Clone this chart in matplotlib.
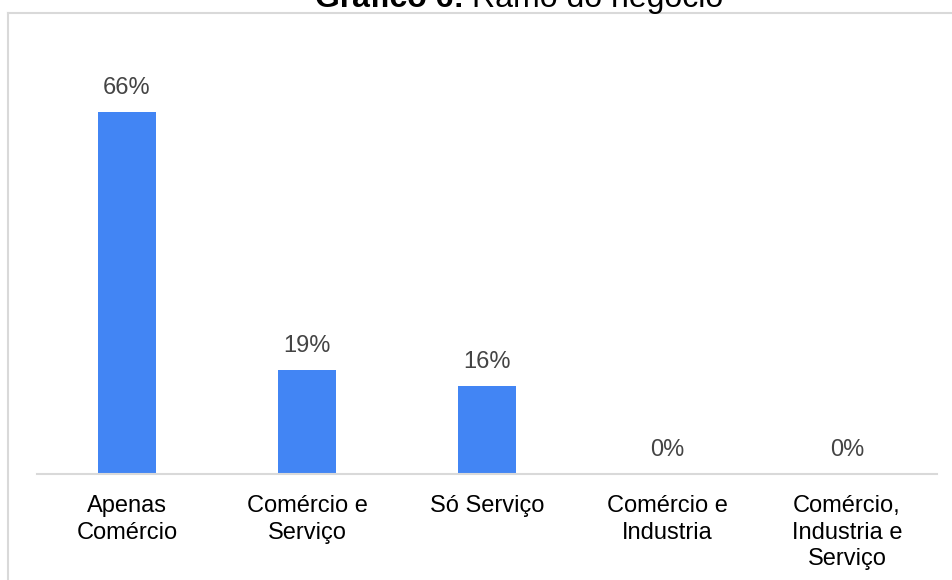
import matplotlib.pyplot as plt
from matplotlib.lines import Line2D

categorias = ["Apenas\nComércio", "Comércio e\nServiço", "Só Serviço",
              "Comércio e\nIndustria", "Comércio,\nIndustria e\nServiço"]
percentuais = [66, 19, 16, 0, 0]

plt.rcParams['font.family'] = ['Liberation Sans', 'DejaVu Sans']

W, H = 952, 580
fig = plt.figure(figsize=(W / 100, H / 100), dpi=100)

# chart area in pixels: baseline at y=474, x from 37 to 937
ax = fig.add_axes([37 / W, (H - 474) / H, 900 / W, 460 / H])
x = list(range(len(categorias)))
ax.bar(x, percentuais, width=0.317, color='#4285F4')
ax.set_xlim(-0.5, 4.5)
ax.set_ylim(0, 460 / 5.485)

for xi, v in zip(x, percentuais):
    ax.annotate(f"{v}%", (xi, v), xytext=(0, 9.5), textcoords='offset points',
                ha='center', va='bottom', fontsize=17, color='#444444')

ax.set_xticks(x)
ax.set_xticklabels(categorias, fontsize=17, color='black', linespacing=1.28)
ax.tick_params(axis='x', length=0, pad=15)
ax.set_yticks([])
for s in ['top', 'right', 'left']:
    ax.spines[s].set_visible(False)
ax.spines['bottom'].set_color('#d9d9d9')
ax.spines['bottom'].set_linewidth(1.5)

# outer frame (left and top edges)
fig.add_artist(Line2D([7.5 / W, 7.5 / W], [0, 1 - 13 / H], transform=fig.transFigure,
                      color='#d9d9d9', lw=1.5))
fig.add_artist(Line2D([7.5 / W, 1], [1 - 13 / H, 1 - 13 / H], transform=fig.transFigure,
                      color='#d9d9d9', lw=1.5))

# title, partly above the frame
fig.text(315 / W, 1 - 7 / H, "Gráfico 6:", fontsize=23, fontweight='bold',
         ha='left', va='baseline')
fig.text(472 / W, 1 - 7 / H, "Ramo do negócio", fontsize=23,
         ha='left', va='baseline')

fig.savefig('out.png', dpi=100)
